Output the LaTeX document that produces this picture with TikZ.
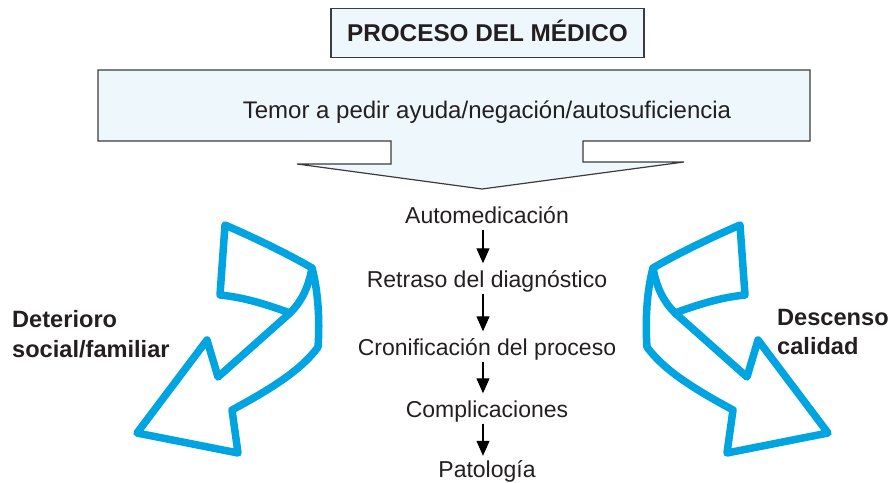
\documentclass[tikz,border=0pt]{standalone}
\usepackage{fontspec}
\setmainfont{Liberation Sans}
\usetikzlibrary{arrows.meta}
\definecolor{arrowblue}{RGB}{0,164,224}
\definecolor{boxfill}{RGB}{238,247,251}
\definecolor{boxdraw}{RGB}{60,60,60}
\definecolor{labeltext}{RGB}{35,31,32}
\tikzset{
  titlebox/.style={draw=boxdraw, line width=1.2pt, fill=boxfill, inner sep=0pt,
    minimum width=313pt, minimum height=49pt, text height=17pt, text depth=0pt,
    font=\fontsize{24.3}{28}\selectfont\bfseries, text=labeltext},
  bigarrow/.style={draw=boxdraw, line width=1.2pt, fill=boxfill, line join=miter},
  maintext/.style={inner sep=0pt, font=\fontsize{24}{28}\selectfont, anchor=base, text=labeltext},
  stepnode/.style={inner sep=0pt, font=\fontsize{23}{27}\selectfont, text height=17pt, text depth=5pt, anchor=base, text=labeltext},
  flowarrow/.style={line width=1.2pt, -{Triangle[width=13pt,length=15pt]}, shorten <=1.5pt, shorten >=6.5pt},
  sidelabel/.style={inner sep=0pt, font=\fontsize{23.6}{30}\selectfont\bfseries, anchor=base west, text=labeltext},
  bluearrow/.style={draw=arrowblue, line width=7.5pt, line join=round, line cap=round, fill=white}
}
\begin{document}
\begin{tikzpicture}[x=1pt,y=-1pt]
\useasboundingbox (0,0) rectangle (889,482);

% title
\node[titlebox] (title) at (487.5,33) {PROCESO DEL MÉDICO};

% big arrow
\draw[bigarrow] (98,70) -- (810,70) -- (810,141) -- (583,141) -- (583,162) -- (684,162)
  -- (482,189) -- (297,164) -- (391,164) -- (391,141) -- (98,141) -- cycle;
\node[maintext] (temor) at (487,118) {Temor a pedir ayuda/negación/autosuficiencia};

% flow
\node[stepnode] (s1) at (487,223) {Automedicación};
\node[stepnode] (s2) at (487,287) {Retraso del diagnóstico};
\node[stepnode] (s3) at (487,355) {Cronificación del proceso};
\node[stepnode] (s4) at (487,417) {Complicaciones};
\node[stepnode] (s5) at (487,477) {Patología};
\draw[flowarrow] ([xshift=-4pt]s1.south) -- ([xshift=-4pt]s2.north);
\draw[flowarrow] ([xshift=-4pt]s2.south) -- ([xshift=-4pt]s3.north);
\draw[flowarrow] ([xshift=-4pt]s3.south) -- ([xshift=-4pt]s4.north);
\draw[flowarrow, shorten >=4pt] ([xshift=-4pt]s4.south) -- ([xshift=-4pt]s5.north);

% left blue arrow
\draw[bluearrow] (218,377) -- (290,313) .. controls (260,302) and (240,297) .. (220,295)
  -- (225,225) .. controls (255,238) and (290,255) .. (312,268)
  .. controls (318,290) and (320,320) .. (318,347)
  .. controls (300,372) and (265,392) .. (232,410)
  -- (238,453) -- (137,433) -- (207,340) -- cycle;
\draw[bluearrow, fill=none] (312,268) .. controls (308,290) and (300,303) .. (290,313);

% right blue arrow
\draw[bluearrow] (747,377) -- (675,313) .. controls (705,302) and (725,297) .. (745,295)
  -- (740,225) .. controls (710,238) and (675,255) .. (653,268)
  .. controls (647,290) and (645,320) .. (647,347)
  .. controls (665,372) and (700,392) .. (733,410)
  -- (727,453) -- (828,433) -- (758,340) -- cycle;
\draw[bluearrow, fill=none] (653,268) .. controls (657,290) and (665,303) .. (675,313);

% side labels
\node[sidelabel] (l1) at (12,327) {Deterioro};
\node[sidelabel] (l2) at (12,357) {social/familiar};
\node[sidelabel] (r1) at (777,325) {Descenso};
\node[sidelabel] (r2) at (777,354) {calidad};
\end{tikzpicture}
\end{document}
